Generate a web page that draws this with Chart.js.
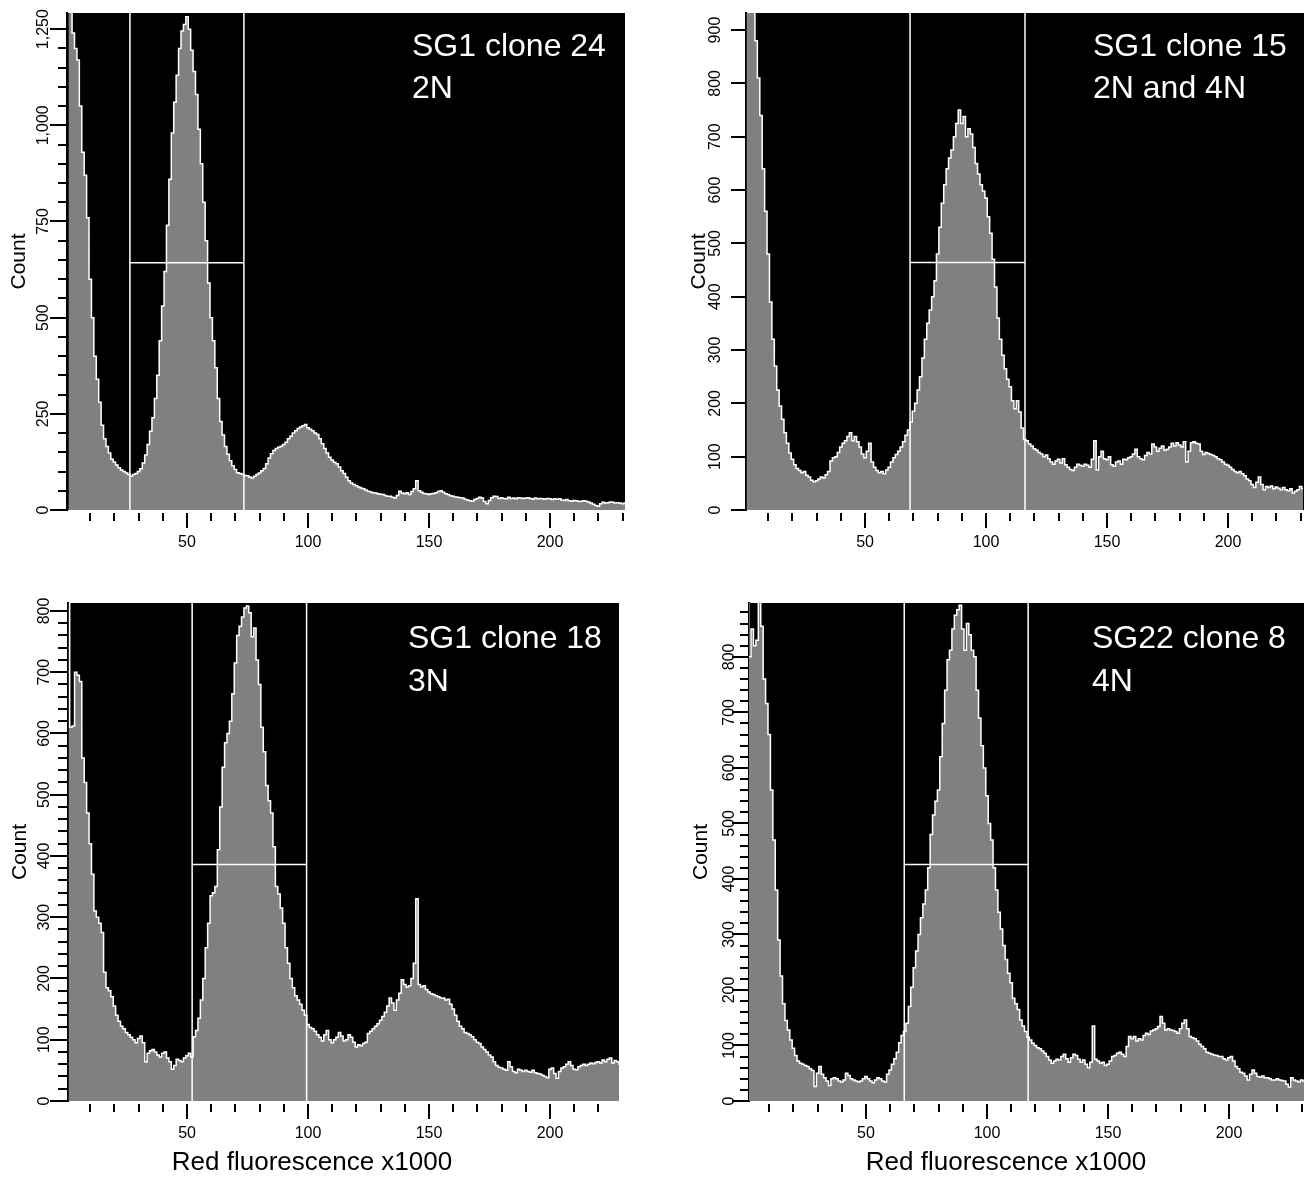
<!DOCTYPE html>
<html><head><meta charset="utf-8">
<script src="https://cdn.jsdelivr.net/npm/chart.js@4.4.1/dist/chart.umd.min.js"></script>
<style>
html,body{margin:0;padding:0;background:#fff;width:1304px;height:1178px;overflow:hidden}
canvas{position:absolute}
</style></head><body>
<canvas id="c1" width="652" height="590" style="left:0;top:0"></canvas>
<canvas id="c2" width="652" height="590" style="left:652px;top:0"></canvas>
<canvas id="c3" width="652" height="588" style="left:0;top:590px"></canvas>
<canvas id="c4" width="652" height="588" style="left:652px;top:590px"></canvas>
<script>
// ---------- DATA ----------
const panelLabels = [["SG1 clone 24", "2N"], ["SG1 clone 15", "2N and 4N"], ["SG1 clone 18", "3N"], ["SG22 clone 8", "4N"]];
const xAxisTitle = "Red fluorescence x1000";
const yAxisTitle = "Count";
const xTickLabels = [50, 100, 150, 200];
const yTicks1 = [0, 250, 500, 750, 1000, 1250];
const yTicks2 = [0, 100, 200, 300, 400, 500, 600, 700, 800, 900];
const yTicks3 = [0, 100, 200, 300, 400, 500, 600, 700, 800];
const yTicks4 = [0, 100, 200, 300, 400, 500, 600, 700, 800];
const gateLow = [26.4, 68.6, 52.1, 65.8];
const gateHigh = [73.5, 116.1, 99.4, 117];
const gateLevel = [643, 464, 386, 426];

// counts per channel (channel 1, 2, 3, ...)
const countsClone24 = [
1500,1400,1240,1200,1170,1050,930,870,760,600,
500,400,340,280,220,185,165,148,132,125,
117,110,104,100,96,92,88,92,95,100,
107,122,143,170,205,240,290,350,440,530,
620,740,860,980,1060,1130,1200,1245,1262,1282,
1250,1195,1140,1080,990,900,800,700,590,500,
440,370,290,230,195,165,145,128,115,105,
97,95,93,90,89,86,83,88,92,96,
102,108,120,135,146,155,160,163,166,170,
176,185,192,200,206,212,216,219,222,214,
210,206,200,196,185,172,160,148,137,130,
124,120,112,102,95,85,76,70,66,63,
60,57,55,52,49,47,45,44,42,41,
40,38,36,36,33,31,38,49,44,42,
45,40,48,55,76,50,46,43,42,40,
42,43,45,48,50,46,42,40,37,36,
34,33,32,31,28,26,24,23,27,30,
33,31,22,16,25,32,36,35,30,32,
30,29,33,30,31,29,32,31,30,31,
32,30,28,31,29,30,29,28,30,29,
27,29,28,29,26,25,27,24,23,25,
24,22,23,24,23,21,18,15,12,10,
16,20,18,19,21,20,18,19,18,16,18];

const countsClone15 = [
1100,1050,990,950,880,810,740,640,560,480,
390,320,270,225,195,170,145,125,107,95,
85,78,74,70,72,65,62,56,53,55,
58,62,60,66,72,92,98,100,108,118,
125,130,138,145,130,138,128,118,105,98,
110,125,90,80,74,70,72,68,75,80,
90,98,104,110,118,128,140,150,165,185,
200,225,250,285,320,350,375,400,430,480,
530,575,610,640,660,675,700,725,750,725,
738,700,715,705,680,650,630,610,598,585,
550,519,470,418,360,320,290,265,245,231,
205,190,205,184,154,132,130,124,120,115,
112,108,105,100,103,96,90,86,92,95,
88,96,85,80,76,74,80,86,84,82,
86,84,80,95,130,75,100,110,96,94,
100,85,82,90,92,86,95,94,98,100,
105,114,100,96,94,102,108,105,124,118,
110,116,120,112,114,118,125,120,126,122,
118,128,90,110,126,128,125,124,110,104,
108,106,104,102,100,96,94,90,86,84,
80,76,72,70,72,68,64,58,55,48,
42,52,62,48,38,44,42,45,40,43,
41,38,42,38,36,40,32,35,38,44,40];

const countsClone18 = [
900,610,612,700,695,685,560,520,470,420,
370,310,300,290,275,210,185,180,170,155,
140,130,122,118,112,108,104,100,95,102,
106,95,64,78,82,84,80,75,72,78,
80,70,64,52,58,68,66,64,70,74,
78,72,105,115,135,165,200,250,290,335,
340,350,410,480,545,585,600,620,665,715,
760,775,790,805,808,797,758,772,720,680,
610,570,515,490,470,415,350,338,315,290,
250,225,200,185,172,165,158,148,140,125,
120,118,114,108,104,98,108,115,100,95,
100,104,112,106,98,100,108,104,96,88,
92,90,94,96,110,114,118,122,126,132,
138,145,155,168,160,148,165,176,198,190,
186,188,200,225,330,190,186,188,182,178,
175,174,172,170,168,168,165,166,158,150,
140,130,122,118,112,110,108,105,100,96,
94,88,84,80,75,72,64,58,55,54,
52,50,64,56,48,46,52,50,48,50,
48,47,50,46,45,44,42,40,38,52,
54,45,37,48,54,56,60,64,58,52,
51,56,58,60,58,60,62,61,63,64,
62,67,64,68,70,62,66,64,60];

const countsClone8 = [
1000,800,850,820,830,1000,855,760,716,660,
560,470,380,290,225,175,145,128,110,95,
82,72,68,66,64,62,58,55,26,50,
62,48,42,36,28,40,42,40,36,34,
38,50,46,40,38,36,34,36,40,44,
40,36,33,38,42,40,36,34,48,56,
66,76,88,105,118,125,140,170,205,240,
270,300,330,355,380,420,480,515,540,560,
620,680,740,795,812,850,875,885,893,850,
812,860,840,812,800,740,690,640,600,550,
500,470,420,380,340,310,280,255,230,213,
185,175,165,146,135,125,115,110,104,100,
96,94,90,86,80,74,68,72,75,74,
80,84,76,70,78,84,82,75,70,74,
66,60,70,135,75,72,68,70,64,66,
72,80,82,86,88,84,80,98,116,112,
116,108,112,110,118,122,120,126,128,130,
134,152,140,128,130,128,127,125,122,130,
140,146,130,116,114,112,108,102,98,94,
88,86,84,83,82,80,80,76,74,78,
80,72,62,58,52,50,45,38,48,56,
50,44,43,45,42,42,40,38,38,40,
38,37,36,30,25,42,38,36,34,38,36];

// ---------- LAYOUT / STYLE ----------
Chart.defaults.font.family = '"Liberation Sans", Arial, sans-serif';
const panels = [
  {id:'c1', W:652, H:590, left:67, top:13, right:625, bottom:510, xMin:0.4, xMax:231, yMax:1292,
   yMinor:50, yMajor:250, yMajorLen:17, yMinorLen:9, labelOff:3, titlePad:7, textX:412, textY:[56,98],
   counts:countsClone24, yTicks:yTicks1, xTitle:false},
  {id:'c2', W:652, H:590, left:94, top:13, right:652, bottom:510, xMin:0.8, xMax:231.4, yMax:932,
   yMinor:100, yMajor:100, yMajorLen:15, yMinorLen:15, labelOff:17, titlePad:35, textX:441, textY:[56,98],
   counts:countsClone15, yTicks:yTicks2, xTitle:false},
  {id:'c3', W:652, H:588, left:68, top:13, right:619, bottom:511, xMin:0.8, xMax:228.5, yMax:813,
   yMinor:20, yMajor:100, yMajorLen:18, yMinorLen:10, labelOff:10, titlePad:8, textX:408, textY:[58,101],
   counts:countsClone18, yTicks:yTicks3, xTitle:true, xTitleX:312, xTitleY:573},
  {id:'c4', W:652, H:588, left:97, top:13, right:652, bottom:511, xMin:1.65, xMax:231, yMax:897,
   yMinor:20, yMajor:100, yMajorLen:17, yMinorLen:9, labelOff:6, titlePad:37, textX:440, textY:[58,101],
   counts:countsClone8, yTicks:yTicks4, xTitle:true, xTitleX:312, xTitleY:573}
];
panels[3].xTitleX = 354;

const decorPlugin = {
  id: 'decor',
  beforeDraw(chart) {
    const {ctx, chartArea: a} = chart;
    ctx.save();
    ctx.fillStyle = '#000';
    ctx.fillRect(a.left, a.top, a.right - a.left, a.bottom - a.top);
    ctx.restore();
  },
  afterDraw(chart) {
    const o = chart.options.plugins.decor;
    const {ctx, chartArea: a} = chart;
    const x = chart.scales.x, y = chart.scales.y;
    ctx.save();
    ctx.strokeStyle = '#000';
    ctx.lineWidth = 2;
    for (let v = 10; v <= x.max; v += 10) {
      if (v < x.min) continue;
      const px = Math.round(x.getPixelForValue(v));
      const major = v % 50 === 0;
      ctx.beginPath();
      ctx.moveTo(px, a.bottom + 3);
      ctx.lineTo(px, a.bottom + (major ? 18 : 11));
      ctx.stroke();
    }
    for (let v = 0; v <= y.max; v += o.yMinor) {
      const py = Math.round(y.getPixelForValue(v));
      const major = v % o.yMajor === 0;
      ctx.beginPath();
      ctx.moveTo(a.left, py);
      ctx.lineTo(a.left - (major ? o.yMajorLen : o.yMinorLen), py);
      ctx.stroke();
    }
    ctx.fillStyle = '#fff';
    ctx.font = '32px "Liberation Sans", Arial, sans-serif';
    ctx.textAlign = 'left';
    ctx.textBaseline = 'alphabetic';
    o.text.forEach((t, i) => ctx.fillText(t, o.textX, o.textY[i]));
    if (o.xTitle) {
      ctx.fillStyle = '#000';
      ctx.font = '26px "Liberation Sans", Arial, sans-serif';
      ctx.textAlign = 'center';
      ctx.textBaseline = 'middle';
      ctx.fillText(o.xTitle, o.xTitleX, o.xTitleY);
    }
    ctx.restore();
  }
};

panels.forEach((P, i) => {
  const hist = P.counts.map((c, k) => ({x: k + 1, y: c}));
  const lo = gateLow[i], hi = gateHigh[i], lv = gateLevel[i];
  const gate = [
    {x: lo, y: P.yMax}, {x: lo, y: 0}, {x: lo, y: null},
    {x: hi, y: P.yMax}, {x: hi, y: 0}, {x: hi, y: null},
    {x: lo, y: lv}, {x: hi, y: lv}
  ];
  new Chart(document.getElementById(P.id), {
    type: 'line',
    data: {datasets: [
      {data: gate, borderColor: '#fff', borderWidth: 1.5, pointRadius: 0, fill: false, spanGaps: false, order: 0, clip: 0},
      {data: hist, stepped: 'middle', borderColor: '#fff', borderWidth: 1.5, backgroundColor: '#808080',
       fill: 'origin', pointRadius: 0, order: 1, clip: 0}
    ]},
    options: {
      responsive: false, animation: false, devicePixelRatio: 1,
      layout: {padding: {left: 0, top: P.top, right: P.W - P.right, bottom: 0}},
      plugins: {
        legend: {display: false}, tooltip: {enabled: false},
        decor: {yMinor: P.yMinor, yMajor: P.yMajor, yMajorLen: P.yMajorLen, yMinorLen: P.yMinorLen,
                text: panelLabels[i], textX: P.textX, textY: P.textY,
                xTitle: P.xTitle ? xAxisTitle : null, xTitleX: P.xTitleX, xTitleY: P.xTitleY}
      },
      scales: {
        x: {
          type: 'linear', min: P.xMin, max: P.xMax,
          afterFit: s => { s.height = P.H - P.bottom; },
          afterBuildTicks: s => { s.ticks = xTickLabels.map(v => ({value: v})); },
          grid: {display: false, drawTicks: true, tickLength: 23}, border: {display: false},
          ticks: {padding: 0, color: '#000', font: {size: 16}, maxRotation: 0, autoSkip: false}
        },
        y: {
          type: 'linear', min: 0, max: P.yMax,
          afterFit: s => { s.width = P.left; },
          afterBuildTicks: s => { s.ticks = P.yTicks.map(v => ({value: v})); },
          grid: {display: false, drawTicks: true, tickLength: P.labelOff},
          border: {display: true, color: '#000', width: 2},
          ticks: {padding: 0, color: '#000', font: {size: 16}, minRotation: 90, maxRotation: 90,
                  crossAlign: 'center', autoSkip: false},
          title: {display: true, text: yAxisTitle, color: '#000', font: {size: 21}, padding: {top: P.titlePad, bottom: 0}}
        }
      }
    },
    plugins: [decorPlugin]
  });
});
</script>
</body></html>
